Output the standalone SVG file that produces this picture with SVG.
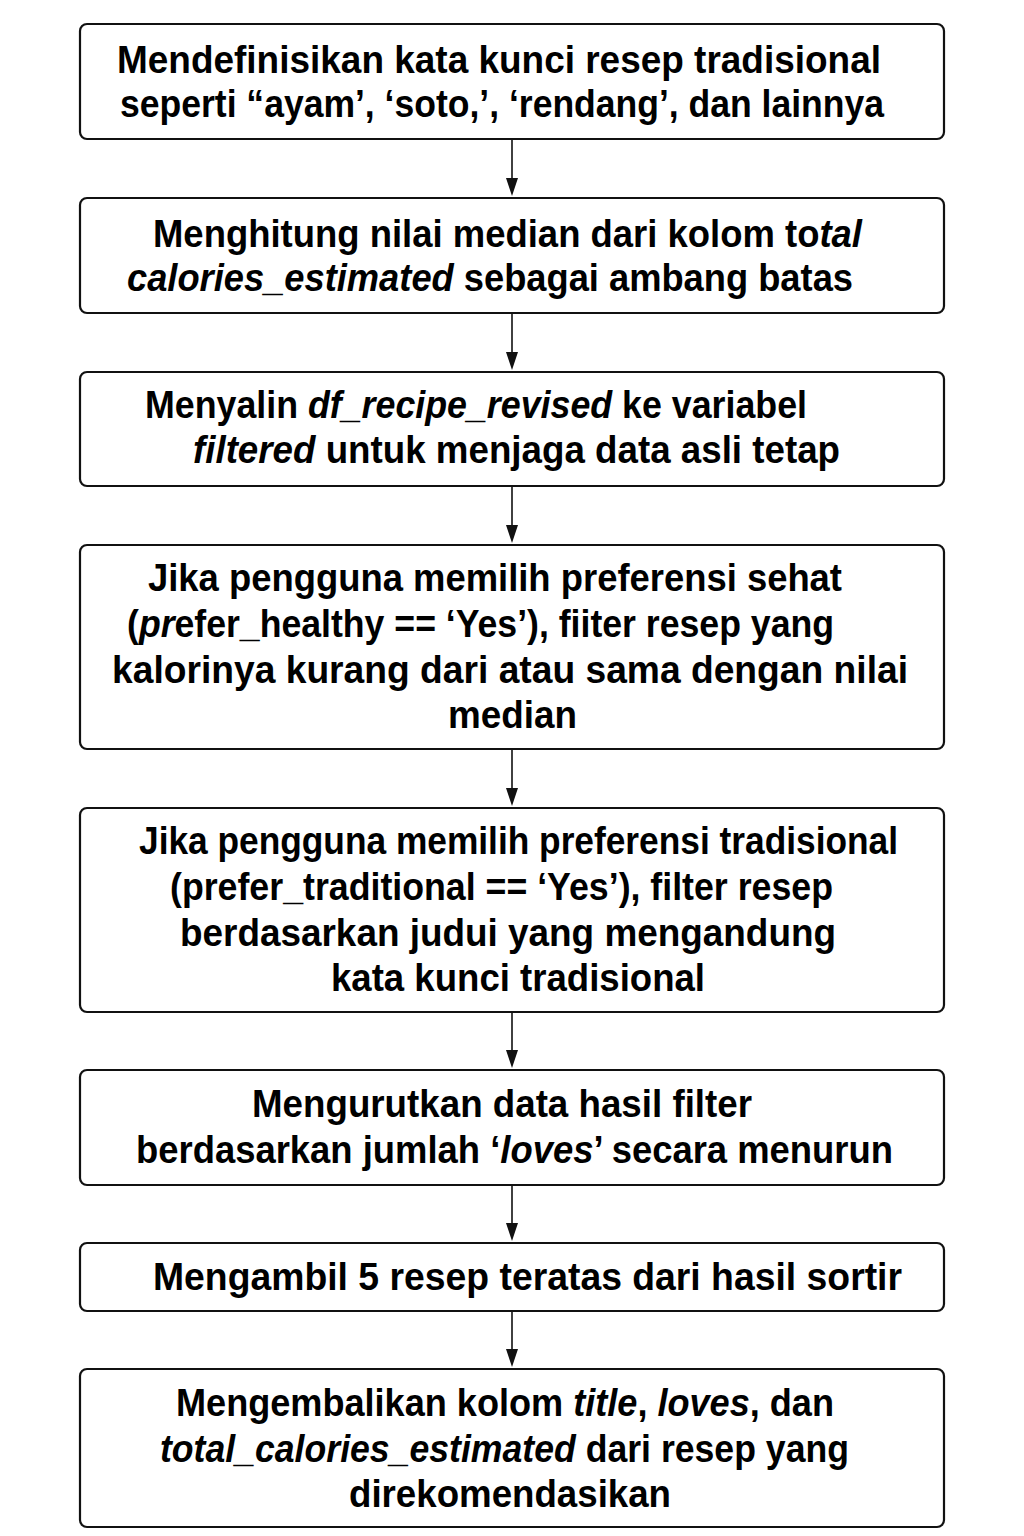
<svg xmlns="http://www.w3.org/2000/svg" width="1024" height="1536" viewBox="0 0 1024 1536">
<style>
.box{fill:#fff;stroke:#111;stroke-width:2.2}
.t{font-family:"Liberation Sans",Arial,sans-serif;font-weight:bold;font-size:39px;fill:#000}
.i{font-style:italic}
.c{stroke:#111;stroke-width:1.6;fill:none}
.ah{fill:#111}
</style>
<defs>
<path id="head" d="M-6,0 L6,0 L0,18 Z"/>
</defs>
<rect width="1024" height="1536" fill="#fff"/>
<g id="connectors">
<path class="c" d="M512,140 V178"/>
<path class="c" d="M512,314 V352"/>
<path class="c" d="M512,487 V525"/>
<path class="c" d="M512,750 V788"/>
<path class="c" d="M512,1013 V1050"/>
<path class="c" d="M512,1186 V1223"/>
<path class="c" d="M512,1312 V1349"/>
<use href="#head" class="ah" x="512" y="178"/>
<use href="#head" class="ah" x="512" y="352"/>
<use href="#head" class="ah" x="512" y="525"/>
<use href="#head" class="ah" x="512" y="788"/>
<use href="#head" class="ah" x="512" y="1050"/>
<use href="#head" class="ah" x="512" y="1223"/>
<use href="#head" class="ah" x="512" y="1349"/>
</g>
<g id="n1">
<rect class="box" x="80" y="24" width="864" height="115" rx="7"/>
<text class="t" x="117" y="73" textLength="764" lengthAdjust="spacingAndGlyphs">Mendefinisikan kata kunci resep tradisional</text>
<text class="t" x="120" y="117" textLength="764" lengthAdjust="spacingAndGlyphs">seperti “ayam’, ‘soto,’, ‘rendang’, dan lainnya</text>
</g>
<g id="n2">
<rect class="box" x="80" y="198" width="864" height="115" rx="7"/>
<text class="t" x="153" y="247" textLength="709" lengthAdjust="spacingAndGlyphs">Menghitung nilai median dari kolom to<tspan class="i">tal</tspan></text>
<text class="t" x="127" y="291" textLength="726" lengthAdjust="spacingAndGlyphs"><tspan class="i">calories_estimated</tspan> sebagai ambang batas</text>
</g>
<g id="n3">
<rect class="box" x="80" y="372" width="864" height="114" rx="7"/>
<text class="t" x="145" y="418" textLength="662" lengthAdjust="spacingAndGlyphs">Menyalin <tspan class="i">df_recipe_revised</tspan> ke variabel</text>
<text class="t" x="193" y="463" textLength="647" lengthAdjust="spacingAndGlyphs"><tspan class="i">filtered</tspan> untuk menjaga data asli tetap</text>
</g>
<g id="n4">
<rect class="box" x="80" y="545" width="864" height="204" rx="7"/>
<text class="t" x="148" y="591" textLength="694" lengthAdjust="spacingAndGlyphs">Jika pengguna memilih preferensi sehat</text>
<text class="t" x="127" y="637" textLength="707" lengthAdjust="spacingAndGlyphs">(<tspan class="i">pr</tspan>efer_healthy == ‘Yes’), fiiter resep yang</text>
<text class="t" x="112" y="683" textLength="796" lengthAdjust="spacingAndGlyphs">kalorinya kurang dari atau sama dengan nilai</text>
<text class="t" x="448" y="728" textLength="129" lengthAdjust="spacingAndGlyphs">median</text>
</g>
<g id="n5">
<rect class="box" x="80" y="808" width="864" height="204" rx="7"/>
<text class="t" x="139" y="854" textLength="759" lengthAdjust="spacingAndGlyphs">Jika pengguna memilih preferensi tradisional</text>
<text class="t" x="170" y="900" textLength="663" lengthAdjust="spacingAndGlyphs">(prefer_traditional == ‘Yes’), filter resep</text>
<text class="t" x="180" y="946" textLength="656" lengthAdjust="spacingAndGlyphs">berdasarkan judui yang mengandung</text>
<text class="t" x="331" y="991" textLength="374" lengthAdjust="spacingAndGlyphs">kata kunci tradisional</text>
</g>
<g id="n6">
<rect class="box" x="80" y="1070" width="864" height="115" rx="7"/>
<text class="t" x="252" y="1117" textLength="500" lengthAdjust="spacingAndGlyphs">Mengurutkan data hasil filter</text>
<text class="t" x="136" y="1163" textLength="757" lengthAdjust="spacingAndGlyphs">berdasarkan jumlah ‘<tspan class="i">loves</tspan>’ secara menurun</text>
</g>
<g id="n7">
<rect class="box" x="80" y="1243" width="864" height="68" rx="7"/>
<text class="t" x="153" y="1290" textLength="749" lengthAdjust="spacingAndGlyphs">Mengambil 5 resep teratas dari hasil sortir</text>
</g>
<g id="n8">
<rect class="box" x="80" y="1369" width="864" height="158" rx="7"/>
<text class="t" x="176" y="1416" textLength="658" lengthAdjust="spacingAndGlyphs">Mengembalikan kolom <tspan class="i">title</tspan>, <tspan class="i">loves</tspan>, dan</text>
<text class="t" x="160" y="1462" textLength="689" lengthAdjust="spacingAndGlyphs"><tspan class="i">total_calories_estimated</tspan> dari resep yang</text>
<text class="t" x="349" y="1507" textLength="322" lengthAdjust="spacingAndGlyphs">direkomendasikan</text>
</g>
</svg>
